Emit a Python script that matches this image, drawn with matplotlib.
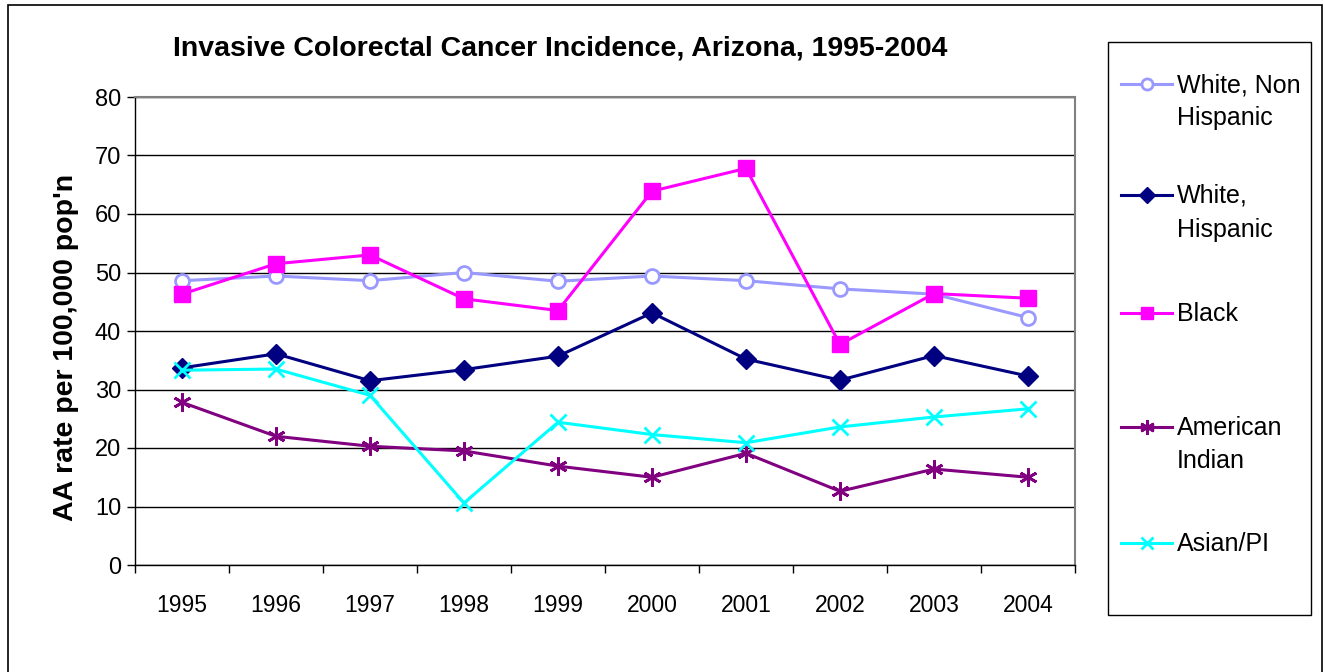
import matplotlib
matplotlib.use("Agg")
import matplotlib.pyplot as plt
from matplotlib.lines import Line2D
from matplotlib.patches import Rectangle

years = ["1995", "1996", "1997", "1998", "1999", "2000", "2001", "2002", "2003", "2004"]
white_non_hispanic = [48.6, 49.4, 48.6, 50.0, 48.5, 49.4, 48.6, 47.2, 46.3, 42.3]
white_hispanic = [33.7, 36.1, 31.5, 33.4, 35.7, 43.1, 35.2, 31.6, 35.8, 32.3]
black = [46.3, 51.5, 53.0, 45.5, 43.5, 63.9, 67.8, 37.7, 46.4, 45.6]
american_indian = [27.8, 22.0, 20.3, 19.5, 16.9, 15.0, 19.1, 12.6, 16.4, 15.0]
asian_pi = [33.3, 33.5, 29.0, 10.6, 24.4, 22.3, 20.9, 23.6, 25.3, 26.7]
labels = ["White, Non\nHispanic", "White,\nHispanic", "Black", "American\nIndian", "Asian/PI"]
title = "Invasive Colorectal Cancer Incidence, Arizona, 1995-2004"
ylabel = "AA rate per 100,000 pop'n"

plt.rcParams['font.family'] = ['Liberation Sans', 'DejaVu Sans']

W, H = 1325, 672
fig = plt.figure(figsize=(W / 100, H / 100), dpi=100)
fig.patch.set_facecolor("white")

# outer chart border
fig.patches.append(Rectangle((8 / W, -0.05), (1322 - 8) / W, 1.05 - 5 / H, transform=fig.transFigure,
                             fill=False, edgecolor="black", linewidth=1.2))

L, R, T, B = 135, 1075, 97, 565
ax = fig.add_axes([L / W, 1 - B / H, (R - L) / W, (B - T) / H])

x = list(range(len(years)))
series = [
    (white_non_hispanic, dict(color="#9999FF", marker="o", markersize=10, markerfacecolor="white",
                              markeredgecolor="#9999FF", markeredgewidth=2)),
    (white_hispanic, dict(color="#000080", marker="D", markersize=10, markerfacecolor="#000080",
                          markeredgecolor="#000080")),
    (black, dict(color="#FF00FF", marker="s", markersize=11, markerfacecolor="#FF00FF",
                 markeredgecolor="#FF00FF")),
    (american_indian, dict(color="#800080", marker=(6, 2, 0), markersize=13, markeredgewidth=2,
                           markeredgecolor="#800080")),
    (asian_pi, dict(color="#00FFFF", marker="x", markersize=11, markeredgewidth=2,
                    markeredgecolor="#00FFFF")),
]
for vals, st in series:
    ax.plot(x, vals, linewidth=2.2, zorder=3, **st)

ax.set_xlim(-0.5, len(years) - 0.5)
ax.set_ylim(0, 80)
ax.set_yticks(range(0, 81, 10))
ax.yaxis.grid(True, color="black", linewidth=1.0)
ax.set_axisbelow(True)
ax.set_xticks([i - 0.5 for i in range(len(years) + 1)])
ax.set_xticklabels([])
ax.set_xticks(x, minor=True)
ax.set_xticklabels(years, minor=True, fontsize=16.5)
ax.tick_params(axis="x", which="minor", length=0, pad=21)
ax.tick_params(axis="x", which="major", length=6, width=1, direction="out", color="black")
ax.tick_params(axis="y", length=6, width=1, direction="out", labelsize=17, pad=4)
for s in ["top", "right"]:
    ax.spines[s].set_color("#808080")
    ax.spines[s].set_linewidth(1.5)
for s in ["left", "bottom"]:
    ax.spines[s].set_color("black")
    ax.spines[s].set_linewidth(1.0)

fig.text(560 / W, 1 - 48 / H, title, ha="center", va="center", fontsize=20.5, fontweight="bold")
fig.text(66 / W, 1 - 347 / H, ylabel, ha="center", va="center", rotation=90, fontsize=20.5,
         fontweight="bold")

# legend box
fig.patches.append(Rectangle((1108 / W, 1 - 615 / H), (1311 - 1108) / W, (615 - 42) / H,
                             transform=fig.transFigure, fill=False, edgecolor="black", linewidth=1.0))
entry_y = [84, 195, 313, 427, 543]
for (vals, st), lab, yy in zip(series, labels, entry_y):
    st2 = dict(st)
    st2["markersize"] = st["markersize"] * 0.8
    fig.add_artist(Line2D([1121 / W, 1146.5 / W, 1172 / W], [1 - yy / H] * 3,
                          transform=fig.transFigure, linewidth=2.2, markevery=[1], **st2))
    fig.text(1177 / W, 1 - (yy - 11) / H, lab, ha="left", va="top", fontsize=18, linespacing=1.5)

fig.savefig("out.png", dpi=100)
